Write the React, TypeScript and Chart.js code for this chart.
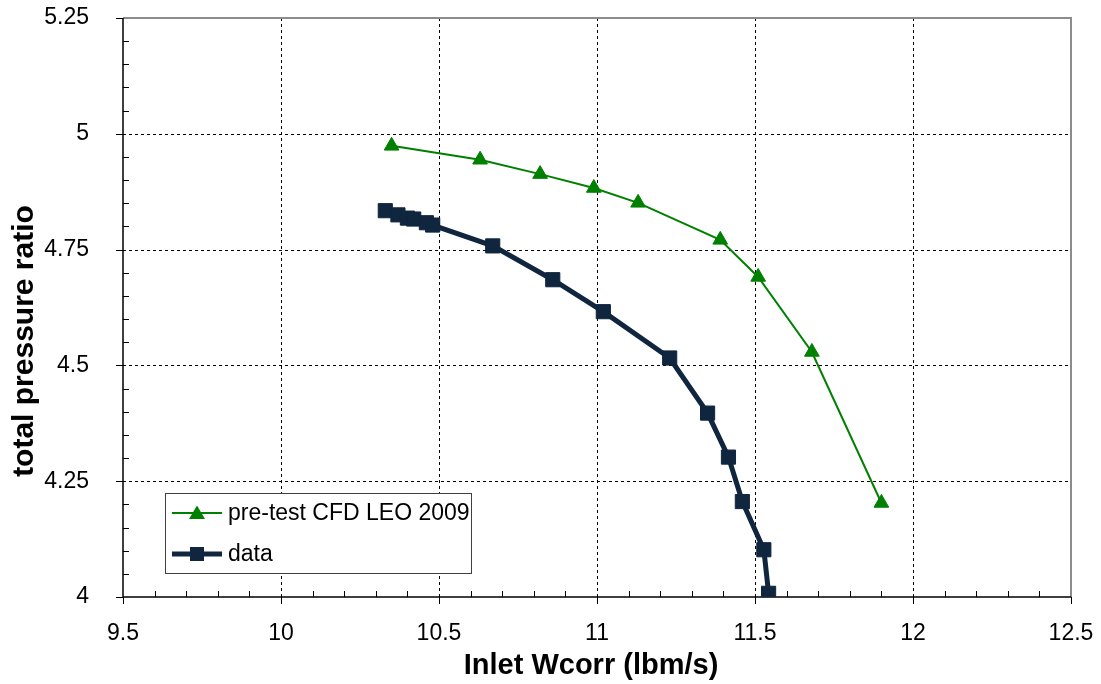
import React, { useEffect, useRef } from "react";
import { Chart, registerables } from "chart.js";

Chart.register(...registerables);

const cfdX = [10.35, 10.63, 10.82, 10.99, 11.13, 11.39, 11.51, 11.68, 11.90];
const cfdY = [4.974, 4.944, 4.913, 4.883, 4.851, 4.771, 4.691, 4.529, 4.203];

const dataX = [10.33, 10.37, 10.40, 10.42, 10.46, 10.48, 10.67, 10.86, 11.02, 11.23, 11.35, 11.416, 11.46, 11.528, 11.543];
const dataY = [4.834, 4.825, 4.818, 4.816, 4.808, 4.803, 4.758, 4.685, 4.616, 4.516, 4.397, 4.302, 4.206, 4.102, 4.008];

const xTicks = [9.5, 10, 10.5, 11, 11.5, 12, 12.5];
const yTicks = [4, 4.25, 4.5, 4.75, 5, 5.25];

const seriesNames = ["pre-test CFD LEO 2009", "data"];
const xTitle = "Inlet Wcorr (lbm/s)";
const yTitle = "total pressure ratio";

const GREEN = "#008000";
const NAVY = "#10263f";
const FONT = "'Liberation Sans', Arial, sans-serif";

const zeroPad = (s: any) => {
  s.paddingTop = 0;
  s.paddingBottom = 0;
  s.paddingLeft = 0;
  s.paddingRight = 0;
};

const overlay = {
  id: "overlay",
  beforeDatasetsDraw(chart: any) {
    const { ctx, chartArea: a, scales } = chart;
    const xs = scales.x;
    const ys = scales.y;
    ctx.save();
    // dashed grid
    ctx.strokeStyle = "#000";
    ctx.lineWidth = 1;
    ctx.setLineDash([3, 3]);
    ctx.beginPath();
    xTicks.slice(1, -1).forEach((v) => {
      const px = Math.round(xs.getPixelForValue(v)) + 0.5;
      ctx.moveTo(px, a.top);
      ctx.lineTo(px, a.bottom);
    });
    yTicks.slice(1, -1).forEach((v) => {
      const py = Math.round(ys.getPixelForValue(v)) + 0.5;
      ctx.moveTo(a.left, py);
      ctx.lineTo(a.right, py);
    });
    ctx.stroke();
    ctx.setLineDash([]);
    // gray plot border (top, right)
    ctx.strokeStyle = "#8c8c8c";
    ctx.lineWidth = 2;
    ctx.beginPath();
    ctx.moveTo(a.left, a.top);
    ctx.lineTo(a.right, a.top);
    ctx.lineTo(a.right, a.bottom);
    ctx.stroke();
    // axes
    ctx.strokeStyle = "#000";
    ctx.lineWidth = 1.5;
    ctx.beginPath();
    ctx.moveTo(a.left, a.top);
    ctx.lineTo(a.left, a.bottom);
    ctx.lineTo(a.right, a.bottom);
    ctx.stroke();
    // ticks
    ctx.lineWidth = 1;
    ctx.beginPath();
    for (let i = 0; i <= 30; i++) {
      const v = 9.5 + i * 0.1;
      const px = Math.round(xs.getPixelForValue(v)) + 0.5;
      if (i % 5 === 0) {
        ctx.moveTo(px, a.bottom);
        ctx.lineTo(px, a.bottom + 7);
      } else {
        ctx.moveTo(px, a.bottom - 6);
        ctx.lineTo(px, a.bottom);
      }
    }
    for (let i = 0; i <= 25; i++) {
      const v = 4 + i * 0.05;
      const py = Math.round(ys.getPixelForValue(v)) + 0.5;
      if (i % 5 === 0) {
        ctx.moveTo(a.left - 7, py);
        ctx.lineTo(a.left, py);
      } else {
        ctx.moveTo(a.left, py);
        ctx.lineTo(a.left + 6, py);
      }
    }
    ctx.stroke();
    ctx.restore();
  },
  afterDraw(chart: any) {
    const { ctx } = chart;
    ctx.save();
    // axis titles
    ctx.fillStyle = "#000";
    ctx.textAlign = "center";
    ctx.textBaseline = "alphabetic";
    ctx.font = `bold 29px ${FONT}`;
    ctx.fillText(xTitle, 591, 674);
    ctx.save();
    ctx.font = `bold 30px ${FONT}`;
    ctx.translate(33, 341);
    ctx.rotate(-Math.PI / 2);
    ctx.fillText(yTitle, 0, 0);
    ctx.restore();

    // legend
    const bx = 165.5, by = 493.5, bw = 306, bh = 80;
    ctx.fillStyle = "#fff";
    ctx.fillRect(bx, by, bw, bh);
    ctx.strokeStyle = "#404040";
    ctx.lineWidth = 1;
    ctx.strokeRect(bx, by, bw, bh);

    const r1 = 513, r2 = 554;
    // row 1
    ctx.strokeStyle = GREEN;
    ctx.lineWidth = 2;
    ctx.beginPath();
    ctx.moveTo(172, r1);
    ctx.lineTo(222, r1);
    ctx.stroke();
    ctx.fillStyle = GREEN;
    ctx.beginPath();
    ctx.moveTo(197, r1 - 7.5);
    ctx.lineTo(205, r1 + 6);
    ctx.lineTo(189, r1 + 6);
    ctx.closePath();
    ctx.fill();
    // row 2
    ctx.strokeStyle = NAVY;
    ctx.lineWidth = 5;
    ctx.beginPath();
    ctx.moveTo(172, r2);
    ctx.lineTo(222, r2);
    ctx.stroke();
    ctx.fillStyle = NAVY;
    ctx.fillRect(190, r2 - 7, 14, 14);

    ctx.fillStyle = "#000";
    ctx.font = `23px ${FONT}`;
    ctx.textAlign = "left";
    ctx.textBaseline = "middle";
    ctx.fillText(seriesNames[0], 228, r1 + 1);
    ctx.fillText(seriesNames[1], 228, r2 + 1);
    ctx.restore();
  },
};

export default function App() {
  const ref = useRef<HTMLCanvasElement | null>(null);
  useEffect(() => {
    if (!ref.current) return;
    const chart = new Chart(ref.current, {
      type: "scatter",
      data: {
        datasets: [
          {
            label: seriesNames[0],
            data: cfdX.map((x, i) => ({ x, y: cfdY[i] })),
            showLine: true,
            borderColor: GREEN,
            backgroundColor: GREEN,
            borderWidth: 2,
            pointStyle: "triangle",
            pointRadius: 8.5,
            pointBorderWidth: 1,
            pointBorderColor: GREEN,
            pointBackgroundColor: GREEN,
          },
          {
            label: seriesNames[1],
            data: dataX.map((x, i) => ({ x, y: dataY[i] })),
            showLine: true,
            borderColor: NAVY,
            backgroundColor: NAVY,
            borderWidth: 5,
            pointStyle: "rect",
            pointRadius: 10,
            pointBorderWidth: 1,
            pointBorderColor: NAVY,
            pointBackgroundColor: NAVY,
          },
        ],
      },
      options: {
        animation: false,
        responsive: false,
        maintainAspectRatio: false,
        layout: { padding: { left: 0, top: 18, right: 30, bottom: 0 } },
        plugins: {
          legend: { display: false },
          tooltip: { enabled: false },
        },
        scales: {
          x: {
            type: "linear",
            min: 9.5,
            max: 12.5,
            grid: { display: false },
            border: { display: false },
            afterBuildTicks: (s: any) => {
              s.ticks = xTicks.map((v) => ({ value: v }));
            },
            afterFit: (s: any) => {
              s.height = 87;
              zeroPad(s);
            },
            ticks: {
              color: "#000",
              font: { family: FONT, size: 23 },
              padding: 15,
              maxRotation: 0,
              autoSkip: false,
              callback: (v: any) => String(v),
            },
          },
          y: {
            type: "linear",
            min: 4,
            max: 5.25,
            grid: { display: false },
            border: { display: false },
            afterBuildTicks: (s: any) => {
              s.ticks = yTicks.map((v) => ({ value: v }));
            },
            afterFit: (s: any) => {
              s.width = 123;
              zeroPad(s);
            },
            ticks: {
              color: "#000",
              font: { family: FONT, size: 23 },
              padding: 26,
              autoSkip: false,
              callback: (v: any) => String(v),
            },
          },
        },
      },
      plugins: [overlay],
    } as any);
    return () => chart.destroy();
  }, []);
  return (
    <div style={{ position: "fixed", left: 0, top: 0, width: 1101, height: 684, background: "#fff" }}>
      <canvas ref={ref} width={1101} height={684} style={{ display: "block", width: 1101, height: 684 }} />
    </div>
  );
}
